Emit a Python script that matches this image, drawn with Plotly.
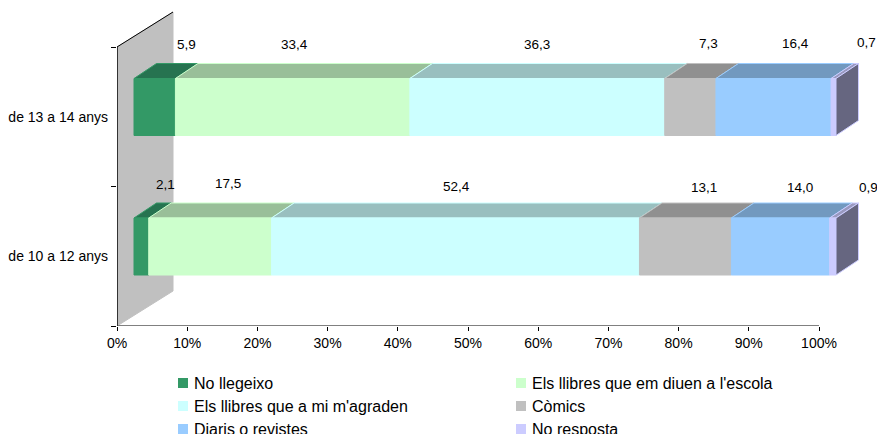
import plotly.graph_objects as go

# ---------- data ----------
categories = ["de 10 a 12 anys", "de 13 a 14 anys"]
series_names = ["No llegeixo", "Els llibres que em diuen a l'escola", "Els llibres que a mi m'agraden",
                "Còmics", "Diaris o revistes", "No resposta"]
values_10_12 = [2.1, 17.5, 52.4, 13.1, 14.0, 0.9]
values_13_14 = [5.9, 33.4, 36.3, 7.3, 16.4, 0.7]
label_10_12 = ["2,1", "17,5", "52,4", "13,1", "14,0", "0,9"]
label_13_14 = ["5,9", "33,4", "36,3", "7,3", "16,4", "0,7"]
x_ticks = [0, 10, 20, 30, 40, 50, 60, 70, 80, 90, 100]

# ---------- style ----------
front_colors = ["#339966", "#CCFFCC", "#CCFFFF", "#C0C0C0", "#99CCFF", "#CCCCFF"]
top_colors = ["#267350", "#99BF99", "#99BFBF", "#909090", "#7299BF", "#9999BF"]
side_color = "#666680"
wall_color = "#C0C0C0"
FONT = "Liberation Sans, Arial, sans-serif"

W, H = 877, 434
ML, MB = 117, 108
PX_X = 7.02      # pixels per percent
PX_Y = 139.5     # pixels per category band
X_MAX = (W - ML) / PX_X
Y_MAX = (H - MB) / PX_Y
WALL_DX, WALL_DY = 56 / PX_X, 35 / PX_Y
BAR_X0 = 17 / PX_X
BAR_DX, BAR_DY = 22.5 / PX_X, 15 / PX_Y
BAR_HALF = 28.5 / PX_Y
BAR_LIFT = 9.75 / PX_Y

# label offsets from the middle of each front face (pixels)
shift_x = [[24, 18, 1, 19, 19, 36], [32, 2, 0, 18, 22, 33]]
label_py = [[184, 183, 186, 187, 187, 187], [44, 44, 44, 43, 43, 42]]

fig = go.Figure()


def poly(xs, ys, fill, line=None, lw=1):
    fig.add_trace(go.Scatter(x=xs + xs[:1], y=ys + ys[:1], mode="lines", fill="toself",
                             fillcolor=fill, line=dict(color=line or fill, width=lw),
                             hoverinfo="skip", showlegend=False))


# back wall
poly([0, 0, WALL_DX, WALL_DX], [0, 2, 2 + WALL_DY, WALL_DY], wall_color)
fig.add_trace(go.Scatter(x=[0, WALL_DX], y=[2, 2 + WALL_DY], mode="lines",
                         line=dict(color="#000000", width=1), hoverinfo="skip", showlegend=False))

annotations = []
rows = [values_10_12, values_13_14]
texts = [label_10_12, label_13_14]
for r, vals in enumerate(rows):
    yc = r + 0.5 + BAR_LIFT
    y0, y1 = yc - BAR_HALF, yc + BAR_HALF
    cum = 0.0
    for i, v in enumerate(vals):
        a, b = BAR_X0 + cum, BAR_X0 + cum + v
        poly([a, b, b + BAR_DX, a + BAR_DX], [y1, y1, y1 + BAR_DY, y1 + BAR_DY],
             top_colors[i], front_colors[i])
        poly([a, b, b, a], [y0, y0, y1, y1], front_colors[i])
        if i == len(vals) - 1:
            poly([b, b + BAR_DX, b + BAR_DX, b], [y0, y0 + BAR_DY, y1 + BAR_DY, y1],
                 side_color, front_colors[i])
        annotations.append(dict(x=(a + b) / 2, xref="x", xshift=shift_x[r][i],
                                y=(H - MB - label_py[r][i]) / (H - MB), yref="paper",
                                text=texts[r][i], showarrow=False, xanchor="center", yanchor="middle",
                                font=dict(family=FONT, size=13.5, color="#000000")))
        cum += v

# axis lines
fig.add_trace(go.Scatter(x=[0, 100], y=[0, 0], mode="lines", line=dict(color="#808080", width=2),
                         hoverinfo="skip", showlegend=False, cliponaxis=False))
fig.add_trace(go.Scatter(x=[0, 0], y=[0, 2], mode="lines", line=dict(color="#333333", width=2),
                         hoverinfo="skip", showlegend=False, cliponaxis=False))

# legend (two columns, three rows)
shapes = []
PH = H - MB
PW = W - ML
leg_x = [178, 516]
leg_y = [383, 406, 429]
for i, name in enumerate(series_names):
    lx = leg_x[i % 2]
    ly = leg_y[i // 2]
    shapes.append(dict(type="rect", xref="paper", yref="paper",
                       x0=(lx - ML) / PW, x1=(lx + 10 - ML) / PW,
                       y0=(PH - ly - 5) / PH, y1=(PH - ly + 5) / PH,
                       fillcolor=front_colors[i], line=dict(width=0)))
    annotations.append(dict(x=(lx + 14 - ML) / PW, y=(PH - ly) / PH, xref="paper", yref="paper",
                            text=name, showarrow=False, xanchor="left", yanchor="middle",
                            font=dict(family=FONT, size=16, color="#000000")))

fig.update_layout(
    width=W, height=H, autosize=False,
    margin=dict(l=ML, r=0, t=0, b=MB, pad=0),
    paper_bgcolor="#FFFFFF", plot_bgcolor="#FFFFFF",
    showlegend=False, shapes=shapes, annotations=annotations,
    font=dict(family=FONT, size=14, color="#000000"),
    xaxis=dict(range=[0, X_MAX], tickvals=x_ticks, ticktext=[f"{t}%" for t in x_ticks],
               ticks="outside", ticklen=4, tickwidth=1, tickcolor="#000000", showgrid=False,
               zeroline=False, showline=False, tickangle=0),
    yaxis=dict(range=[0, Y_MAX], tickvals=[0.5, 1.5], ticktext=categories, ticks="", showgrid=False,
               zeroline=False, showline=False, ticklabelstandoff=8,
               minor=dict(tickvals=[0, 1, 2], ticks="outside", ticklen=5, tickwidth=1,
                          tickcolor="#000000", showgrid=False)),
)

fig.write_html("out.html", config={"displayModeBar": False},
               post_script="document.body.style.margin='0';document.body.style.overflow='hidden';")
